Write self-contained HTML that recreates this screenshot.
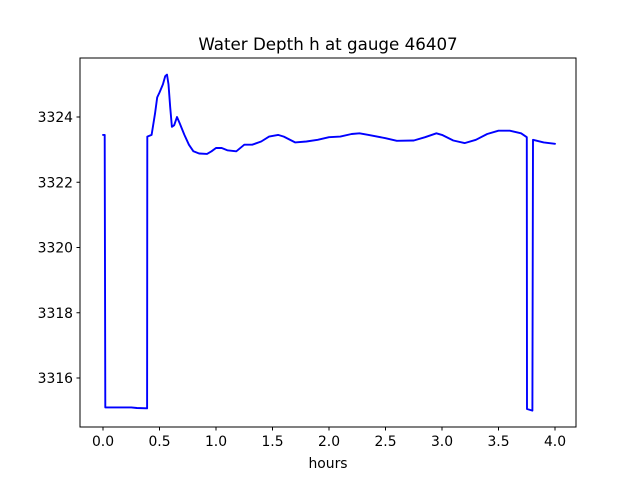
<!DOCTYPE html>
<html><head><meta charset="utf-8"><style>
body{margin:0;background:#fff}
svg{font-family:"DejaVu Sans","Liberation Sans",sans-serif}
</style></head><body>
<svg width="640" height="480" id="c">
<rect x="0" y="0" width="640" height="480" fill="#fff"/>
<text x="328" y="50" font-size="16.7" text-anchor="middle">Water Depth h at gauge 46407</text>
<text x="328" y="468" font-size="13.9" text-anchor="middle">hours</text>
<g id="ticks"></g>
<path id="line" fill="none" stroke="#0000ff" stroke-width="1.9" stroke-linejoin="round" stroke-linecap="round"/>
<rect x="80" y="58" width="496" height="369" fill="none" stroke="#000" stroke-width="1"/>
</svg>
<script>
const xs=[0,0.015,0.02,0.1,0.25,0.3,0.39,0.392,0.43,0.46,0.48,0.5,0.53,0.55,0.566,0.58,0.595,0.61,0.63,0.655,0.68,0.72,0.76,0.8,0.85,0.92,0.96,1.0,1.05,1.1,1.18,1.25,1.32,1.4,1.47,1.55,1.6,1.7,1.8,1.9,2.0,2.1,2.2,2.27,2.35,2.5,2.6,2.75,2.85,2.95,3.0,3.1,3.2,3.3,3.4,3.5,3.6,3.7,3.75,3.752,3.8,3.805,3.9,4.0];
const ys=[3323.45,3323.45,3315.1,3315.1,3315.1,3315.08,3315.07,3323.4,3323.45,3324.1,3324.6,3324.75,3325.0,3325.25,3325.3,3325.0,3324.3,3323.7,3323.75,3324.0,3323.8,3323.45,3323.15,3322.95,3322.88,3322.87,3322.95,3323.05,3323.05,3322.98,3322.95,3323.15,3323.15,3323.25,3323.4,3323.45,3323.4,3323.22,3323.25,3323.3,3323.38,3323.4,3323.48,3323.5,3323.45,3323.35,3323.27,3323.28,3323.38,3323.5,3323.45,3323.28,3323.2,3323.3,3323.48,3323.58,3323.58,3323.5,3323.38,3315.05,3315.0,3323.3,3323.22,3323.18];
const xTicks=[0,0.5,1,1.5,2,2.5,3,3.5,4];
const xTickLabels=["0.0","0.5","1.0","1.5","2.0","2.5","3.0","3.5","4.0"];
const yTicks=[3316,3318,3320,3322,3324];
const yTickLabels=["3316","3318","3320","3322","3324"];
const X=v=>103+v*113, Y=v=>378-(v-3316)*32.625;
const NS="http://www.w3.org/2000/svg", g=document.getElementById('ticks');
function mk(t,a){const e=document.createElementNS(NS,t);for(const k in a)e.setAttribute(k,a[k]);g.appendChild(e);return e;}
xTicks.forEach((v,i)=>{const l=mk('line',{x1:X(v),x2:X(v),y1:427,y2:430.5,stroke:'#000'});


const t=mk('text',{x:X(v),y:446,'font-size':13.9,'text-anchor':'middle'});t.textContent=xTickLabels[i];

});
yTicks.forEach((v,i)=>{const l=mk('line',{x1:76.5,x2:80,y1:Y(v),y2:Y(v),stroke:'#000'});


const t=mk('text',{x:73,y:Y(v)+5,'font-size':13.9,'text-anchor':'end'});t.textContent=yTickLabels[i];

});
document.getElementById('line').setAttribute('d',xs.map((v,i)=>(i?'L':'M')+X(v).toFixed(1)+','+Y(ys[i]).toFixed(1)).join(''));
</script>
</body></html>
